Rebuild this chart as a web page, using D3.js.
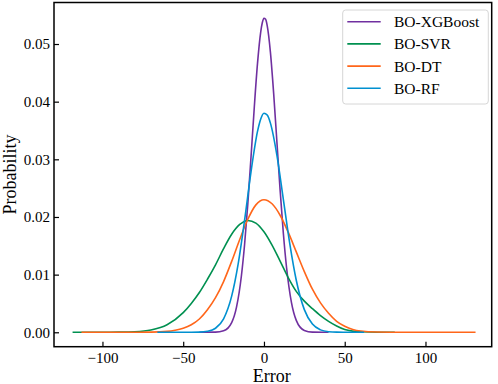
<!DOCTYPE html>
<html>
<head>
<meta charset="utf-8">
<style>
    body { margin: 0; background: #fff; }
    text { font-family: "Liberation Serif", "Times New Roman", serif; fill: #000; }
</style>
</head>
<body>
    <script src="https://d3js.org/d3.v7.js"></script>
    <script>
        // values: [error, probability]
        const seriesNames = ['BO-XGBoost', 'BO-SVR', 'BO-DT', 'BO-RF']
        const xTicks = [-100, -50, 0, 50, 100]
        const yTicks = [0, 0.01, 0.02, 0.03, 0.04, 0.05]

        const xgboost = [[-40,0],[-30,0.00002],[-25,0.00025],[-20,0.00169],[-17,0.00437],[-14,0.00972],[-12,0.01522],[-10,0.02227],[-8,0.03049],[-6,0.039],[-4,0.04663],[-2,0.05212],[-1,0.05373],[0,0.05446],[1,0.05428],[2,0.05319],[4,0.04856],[6,0.04144],[8,0.03306],[10,0.02465],[12,0.01718],[14,0.01119],[17,0.00519],[20,0.00207],[25,0.00032],[30,0.00003],[40,0]]
        const svr = [[-118.5,0],[-100,0.00001],[-90,0.00003],[-80,0.0001],[-70,0.0004],[-60,0.0013],[-50,0.0034],[-45,0.005],[-40,0.0069],[-35,0.0092],[-30,0.0117],[-25,0.0145],[-20,0.017],[-15,0.0187],[-10,0.0194],[-5,0.01894],[0,0.01743],[5,0.01511],[10,0.01234],[15,0.0095],[20,0.0071],[25,0.0054],[30,0.0041],[35,0.0029],[40,0.0019],[45,0.0011],[50,0.00048],[55,0.0002],[60,0.00008],[70,0.00001],[81,0]]
        const dt = [[-113,0],[-90,0],[-80,0.00001],[-70,0.00003],[-60,0.00015],[-55,0.00035],[-50,0.0007],[-45,0.0013],[-40,0.0023],[-35,0.0039],[-30,0.006],[-25,0.0088],[-20,0.0123],[-15,0.0161],[-10,0.0196],[-5,0.0221],[0,0.023],[5,0.02229],[10,0.0203],[15,0.01736],[20,0.01395],[25,0.01053],[30,0.00747],[35,0.0051],[40,0.0033],[45,0.0019],[50,0.00105],[55,0.0005],[60,0.00022],[70,0.00004],[80,0.00001],[90,0],[131,0]]
        const rf = [[-66,0],[-50,0],[-40,0.00003],[-35,0.00017],[-30,0.0007],[-25,0.00234],[-20,0.00627],[-16,0.01183],[-12,0.01945],[-8,0.02788],[-4,0.03484],[-2,0.037],[0,0.038],[2,0.03768],[4,0.03628],[8,0.03072],[12,0.02305],[16,0.01532],[20,0.00902],[25,0.00393],[30,0.00142],[35,0.00042],[40,0.0001],[45,0.00002],[62,0]]

        const colors = ['#7030a0', '#009050', '#ff661a', '#0090d0']
        const series = [xgboost, svr, dt, rf]

        const w = 498
        const h = 384
        const plotLeft = 54, plotRight = 491.7, plotTop = 2.5, plotBottom = 346.7

        const xScale = d3.scaleLinear()
                        .domain([-130, 141])
                        .range([plotLeft, plotRight])
        const yScale = d3.scaleLinear()
                        .domain([-0.0025, 0.0572])
                        .range([plotBottom, plotTop])

        const svg = d3.select('body')
                    .append('svg')
                    .attr('width', w)
                    .attr('height', h)

        const line = d3.line()
                    .x(d => xScale(d[0]))
                    .y(d => yScale(d[1]))
                    .curve(d3.curveMonotoneX)

        series.forEach((s, i) => {
            svg.append('path')
                .datum(s)
                .attr('d', line)
                .attr('fill', 'none')
                .attr('stroke', colors[i])
                .attr('stroke-width', 1.6)
        })

        const xAxis = d3.axisBottom(xScale)
                        .tickValues(xTicks)
                        .tickSize(-5)
                        .tickPadding(6)
        const yAxis = d3.axisLeft(yScale)
                        .tickValues(yTicks)
                        .tickSize(-5)
                        .tickPadding(4)
                        .tickFormat(d3.format('.2f'))

        const gx = svg.append('g')
            .attr('transform', 'translate(0,' + plotBottom + ')')
            .call(xAxis)
        const gy = svg.append('g')
            .attr('transform', 'translate(' + plotLeft + ',0)')
            .call(yAxis)

        ;[gx, gy].forEach(g => {
            g.select('.domain').remove()
            g.selectAll('.tick line').attr('stroke', '#000').attr('stroke-width', 1.2)
            g.selectAll('.tick text').style('font-size', '15px').style('font-family', '"Liberation Serif", serif')
        })

        svg.append('rect')
            .attr('x', plotLeft)
            .attr('y', plotTop)
            .attr('width', plotRight - plotLeft)
            .attr('height', plotBottom - plotTop)
            .attr('fill', 'none')
            .attr('stroke', '#000')
            .attr('stroke-width', 1.5)

        svg.append('text')
            .attr('x', (plotLeft + plotRight) / 2 - 1)
            .attr('y', 381.5)
            .attr('text-anchor', 'middle')
            .style('font-size', '18px')
            .text('Error')

        svg.append('text')
            .attr('transform', 'translate(16,' + ((plotTop + plotBottom) / 2) + ') rotate(-90)')
            .attr('text-anchor', 'middle')
            .style('font-size', '18px')
            .text('Probability')

        // legend
        const legend = svg.append('g')
        legend.append('rect')
            .attr('x', 342.7)
            .attr('y', 10)
            .attr('width', 145.6)
            .attr('height', 94)
            .attr('rx', 3)
            .attr('fill', '#fff')
            .attr('fill-opacity', 0.8)
            .attr('stroke', '#d6d6d6')
            .attr('stroke-width', 1)

        seriesNames.forEach((name, i) => {
            const ly = 21.7 + i * 22.2
            legend.append('line')
                .attr('x1', 347.3)
                .attr('x2', 380.7)
                .attr('y1', ly)
                .attr('y2', ly)
                .attr('stroke', colors[i])
                .attr('stroke-width', 1.6)
            legend.append('text')
                .attr('x', 394)
                .attr('y', ly + 5.5)
                .style('font-size', '15.5px')
                .text(name)
        })
    </script>
</body>
</html>
